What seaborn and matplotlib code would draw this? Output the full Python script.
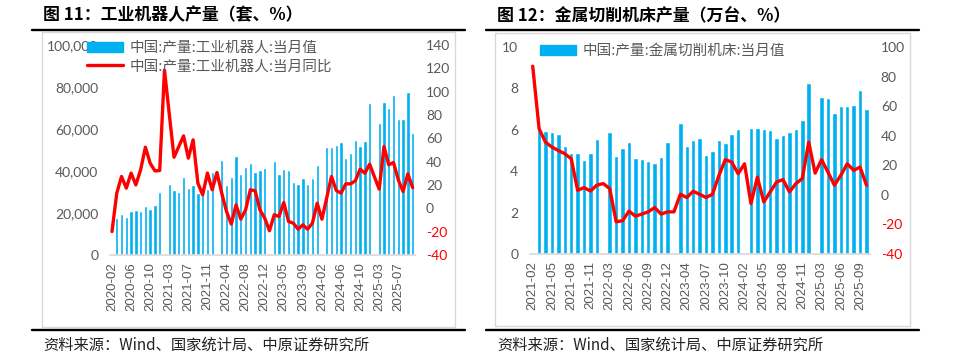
import matplotlib
matplotlib.use("Agg")
import matplotlib.pyplot as plt
import numpy as np
import pandas as pd
import seaborn as sns
from matplotlib.patches import Rectangle
from matplotlib.lines import Line2D

nan = np.nan

# monthly series without January (Jan-Feb reported together)
robot_dates = [d.strftime("%Y-%m") for d in pd.date_range("2020-02", "2025-10", freq="MS") if d.month != 1]
robot_output = [nan, 17.6, 19.5, 18.1, 21.1, 21.6, 21.1, 23.5, 22.0, 24.0, 30.1,
                nan, 33.6, 30.8, 30.1, 37.2, 32.0, 33.2, 29.6, 32.4, 31.5, 39.5,
                nan, 45.2, 33.2, 37.0, 47.2, 38.8, 41.8, 43.7, 39.6, 40.5, 41.2,
                nan, 44.6, 38.8, 40.9, 40.5, 35.0, 33.6, 36.5, 33.6, 36.5, 42.8,
                nan, 51.6, 51.3, 52.4, 54.0, 46.2, 48.6, 55.0, 51.8, 54.5, 72.6,
                nan, 63.0, 72.9, 70.2, 76.0, 64.9, 64.9, 77.7, 58.0]
robot_output = [v * 1000 for v in robot_output]
robot_yoy = [-19.9, 13.0, 27.3, 17.3, 30.2, 20.1, 33.0, 52.4, 38.7, 32.1, 32.4,
             118.5, 81.0, 43.8, 53.0, 62.1, 43.0, 58.7, 21.6, 11.6, 30.2, 15.9,
             30.7, 13.0, -2.7, -13.5, 3.0, -9.3, -1.3, 15.9, 15.0, -1.3, -8.4,
             -19.2, -5.5, -7.0, 5.0, -11.3, -12.7, -17.9, -14.1, -17.9, -12.7, 4.4,
             -9.3, 9.0, 27.3, 15.3, 13.0, 21.0, 21.0, 23.6, 33.6, 30.1, 37.9,
             27.0, 16.4, 53.0, 37.3, 39.3, 24.4, 14.4, 29.6, 17.7]

tool_dates = [d.strftime("%Y-%m") for d in pd.date_range("2021-02", "2025-10", freq="MS") if d.month != 1]
tool_output = [nan, 6.0, 5.95, 5.87, 5.8, 5.2, 4.9, 4.9, 4.55, 4.9, 5.55,
               nan, 5.87, 4.75, 5.1, 5.4, 4.65, 4.6, 4.5, 4.4, 4.7, 5.4,
               nan, 6.35, 5.2, 5.5, 5.6, 4.8, 5.0, 5.5, 5.37, 5.8, 6.05,
               nan, 6.1, 6.1, 6.02, 5.99, 5.62, 5.73, 5.89, 6.05, 6.47, 8.25,
               nan, 7.6, 7.52, 6.83, 7.15, 7.15, 7.18, 7.91, 6.99]
tool_yoy = [87.0, 44.6, 35.6, 32.3, 30.0, 27.8, 24.4, 3.1, 4.9, 2.6, 6.6,
            7.6, 4.2, -18.2, -17.5, -11.0, -14.4, -13.0, -11.5, -8.6, -13.0, -11.5,
            -11.5, 0.4, -1.8, 2.4, 0.4, -1.8, 0.4, 13.0, 23.8, 22.2, 14.3,
            21.0, -5.9, 12.0, -4.8, 2.0, 8.7, 10.3, 2.0, 7.6, 11.0, 35.6,
            14.7, 23.8, 15.4, 6.5, 13.2, 21.0, 16.6, 18.8, 6.5]

BLUE = "#00B0F0"
RED = "#FF0000"
GREY = "#595959"
W, H = 968, 361

sns.set_theme(style="white")
plt.rcParams["font.family"] = ["Noto Sans CJK SC", "DejaVu Sans"]

fig = plt.figure(figsize=(W / 100, H / 100), dpi=100)


def rect(l, t, r, b):
    return [l / W, 1 - b / H, (r - l) / W, (b - t) / H]


def frame(x0, x1, box, title, tx):
    fig.add_artist(Line2D([x0 / W, x1 / W], [1 - 29.5 / H] * 2, color="black", lw=1.7))
    fig.add_artist(Line2D([x0 / W, x1 / W], [1 - 330 / H] * 2, color="black", lw=1.7))
    l, t, r, b = box
    fig.add_artist(Rectangle((l / W, 1 - b / H), (r - l) / W, (b - t) / H,
                             fill=False, edgecolor="#D9D9D9", lw=1))
    fig.text(tx / W, 1 - 15 / H, title, fontsize=12.2, fontweight="bold", va="center", color="black")
    fig.text(tx / W, 1 - 345 / H, "资料来源：Wind、国家统计局、中原证券研究所",
             fontsize=11, va="center", color="#222222")


def panel(pos, dates, vals, yoy, ylim, ystep, y2lim, y2step, tick_every, labels, leg_xy, fmt):
    ax = fig.add_axes(pos)
    df = pd.DataFrame({"date": dates, "val": vals})
    sns.barplot(data=df, x="date", y="val", order=dates, color=BLUE, saturation=1,
                width=0.7, errorbar=None, ax=ax)
    ax.set_ylim(*ylim)
    ax.set_yticks(np.arange(ylim[0], ylim[1] + ystep / 2, ystep))
    ax.set_yticklabels([fmt(v) for v in ax.get_yticks()], fontsize=10, color=GREY, family="Lato")
    ax.set_xlim(-0.5, len(dates) - 0.5)
    idx = list(range(0, len(dates), tick_every))
    ax.set_xticks(idx)
    ax.set_xticklabels([dates[i] for i in idx], rotation=90, fontsize=9.5, color=GREY,
                       family="Liberation Sans")
    ax.set_xlabel("")
    ax.set_ylabel("")
    ax.tick_params(axis="y", length=0, pad=8)
    ax.tick_params(axis="x", length=0, pad=5)
    for s in ["top", "left", "right"]:
        ax.spines[s].set_visible(False)
    ax.spines["bottom"].set_color("#D9D9D9")

    ax2 = ax.twinx()
    sns.lineplot(x=np.arange(len(dates)), y=yoy, color=RED, linewidth=2.4, ax=ax2)
    ax2.set_ylim(*y2lim)
    ticks2 = np.arange(y2lim[0], y2lim[1] + y2step / 2, y2step)
    ax2.set_yticks(ticks2)
    ax2.set_yticklabels([f"{v:.0f}" for v in ticks2], fontsize=10, family="Lato")
    for t, v in zip(ax2.get_yticklabels(), ticks2):
        t.set_color(RED if v < 0 else GREY)
    ax2.tick_params(axis="y", length=0, pad=8)
    for s in ax2.spines.values():
        s.set_visible(False)
    ax2.set_ylabel("")

    handles = [Rectangle((0, 0), 1, 1, color=BLUE), Line2D([], [], color=RED, lw=2.4)][:len(labels)]
    fig.legend(handles, labels, loc="upper left", bbox_to_anchor=(leg_xy[0] / W, 1 - leg_xy[1] / H),
               frameon=False, fontsize=10.5, labelcolor=GREY, handlelength=2.5, handleheight=0.7,
               handletextpad=0.45, labelspacing=0.3, borderpad=0, borderaxespad=0)
    return ax


# left panel: industrial robots
frame(32, 465, (42, 32, 455, 327), "图 11：工业机器人产量（套、%）", 43)
panel(rect(109.6, 45, 415, 255), robot_dates, robot_output, robot_yoy,
      (0, 100000), 20000, (-40, 140), 20, 4,
      ["中国:产量:工业机器人:当月值", "中国:产量:工业机器人:当月同比"], (87, 41),
      lambda v: f"{v:,.0f}")

# right panel: metal cutting machine tools
frame(486, 919, (495, 33, 910, 326), "图 12：金属切削机床产量（万台、%）", 497)
panel(rect(529.5, 47, 869.7, 254), tool_dates, tool_output, tool_yoy,
      (0, 10), 2, (-40, 100), 20, 3,
      ["中国:产量:金属切削机床:当月值"], (540, 44),
      lambda v: f"{v:.0f}")

fig.savefig("out.png", dpi=100)
